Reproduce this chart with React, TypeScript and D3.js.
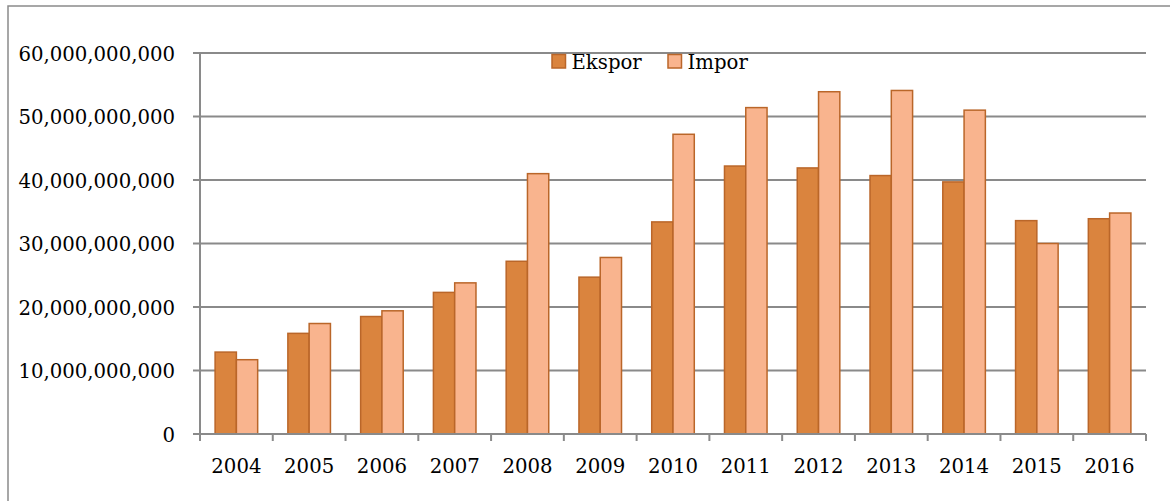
import React, { useEffect, useRef } from 'react';
import * as d3 from 'd3';

const years = ['2004', '2005', '2006', '2007', '2008', '2009', '2010', '2011', '2012', '2013', '2014', '2015', '2016'];
const ekspor = [12.9e9, 15.85e9, 18.5e9, 22.3e9, 27.2e9, 24.7e9, 33.4e9, 42.2e9, 41.9e9, 40.7e9, 39.7e9, 33.6e9, 33.9e9];
const impor = [11.7e9, 17.4e9, 19.4e9, 23.8e9, 41.0e9, 27.8e9, 47.2e9, 51.4e9, 53.9e9, 54.1e9, 51.0e9, 30.0e9, 34.8e9];
const seriesNames = ['Ekspor', 'Impor'];
const yTicks = [0, 10e9, 20e9, 30e9, 40e9, 50e9, 60e9];

const W = 1170;
const H = 501;
const fills = ['#DA843E', '#F9B48E'];
const strokeCol = '#BA6629';
const gridCol = '#8a8a8a';
const font = '"DejaVu Serif", serif';

const App = () => {
  const svgRef = useRef<SVGSVGElement>(null);

  useEffect(() => {
    const svg = d3.select(svgRef.current);
    svg.selectAll('*').remove();

    const left = 200, right = 1146, top = 53, bottom = 434;

    // outer frame (only top and left visible in the crop)
    svg.append('rect')
      .attr('x', 8).attr('y', 6)
      .attr('width', W + 20).attr('height', H + 20)
      .attr('fill', 'white')
      .attr('stroke', gridCol).attr('stroke-width', 1.5);

    const y = d3.scaleLinear().domain([0, 60e9]).range([bottom, top]);
    const x0 = d3.scaleBand<string>().domain(years).range([left, right]).padding(0);
    const bw = x0.bandwidth();
    const groupW = bw * 0.585;
    const x1 = d3.scaleBand<string>().domain(seriesNames)
      .range([(bw - groupW) / 2, (bw + groupW) / 2]).padding(0);

    const fmt = d3.format(',');

    // gridlines + y ticks
    yTicks.forEach(t => {
      svg.append('line')
        .attr('x1', left - 7).attr('x2', right)
        .attr('y1', y(t)).attr('y2', y(t))
        .attr('stroke', gridCol).attr('stroke-width', 2);
      svg.append('text')
        .attr('x', 175).attr('y', y(t) + 7.5)
        .attr('text-anchor', 'end')
        .style('font-family', font)
        .style('font-size', '19.7px')
        .style('fill', '#000')
        .text(fmt(t));
    });

    // y axis line
    svg.append('line')
      .attr('x1', left).attr('x2', left)
      .attr('y1', top).attr('y2', bottom)
      .attr('stroke', gridCol).attr('stroke-width', 2);

    // x ticks at category boundaries
    const bounds = years.map(d => x0(d)!).concat([right]);
    bounds.forEach(b => {
      svg.append('line')
        .attr('x1', b).attr('x2', b)
        .attr('y1', bottom).attr('y2', bottom + 7)
        .attr('stroke', gridCol).attr('stroke-width', 2);
    });

    // bars
    const data = years.map((yr, i) => ({ yr, vals: [ekspor[i], impor[i]] }));
    const groups = svg.selectAll('.grp')
      .data(data)
      .enter()
      .append('g')
      .attr('class', 'grp')
      .attr('transform', d => `translate(${x0(d.yr)}, 0)`);

    groups.selectAll('rect')
      .data(d => d.vals.map((v, i) => ({ v, i })))
      .enter()
      .append('rect')
      .attr('x', d => x1(seriesNames[d.i])!)
      .attr('width', x1.bandwidth())
      .attr('y', d => y(d.v))
      .attr('height', d => bottom - y(d.v))
      .attr('fill', d => fills[d.i])
      .attr('stroke', strokeCol)
      .attr('stroke-width', 1.5);

    // x axis line (drawn over bar bottoms)
    svg.append('line')
      .attr('x1', left).attr('x2', right)
      .attr('y1', bottom).attr('y2', bottom)
      .attr('stroke', gridCol).attr('stroke-width', 2);

    // x labels
    years.forEach(yr => {
      svg.append('text')
        .attr('x', x0(yr)! + bw / 2)
        .attr('y', 473)
        .attr('text-anchor', 'middle')
        .style('font-family', font)
        .style('font-size', '19.7px')
        .style('fill', '#000')
        .text(yr);
    });

    // legend
    const legendPos = [552, 668];
    seriesNames.forEach((name, i) => {
      svg.append('rect')
        .attr('x', legendPos[i]).attr('y', 54.5)
        .attr('width', 13.5).attr('height', 13.5)
        .attr('fill', fills[i])
        .attr('stroke', strokeCol).attr('stroke-width', 1.5);
      svg.append('text')
        .attr('x', legendPos[i] + 19.5)
        .attr('y', 69)
        .style('font-family', font)
        .style('font-size', '19.7px')
        .style('fill', '#000')
        .text(name);
    });
  }, []);

  return (
    <div style={{ position: 'absolute', left: 0, top: 0, width: W, height: H, background: 'white' }}>
      <svg ref={svgRef} width={W} height={H}></svg>
    </div>
  );
};

export default App;
